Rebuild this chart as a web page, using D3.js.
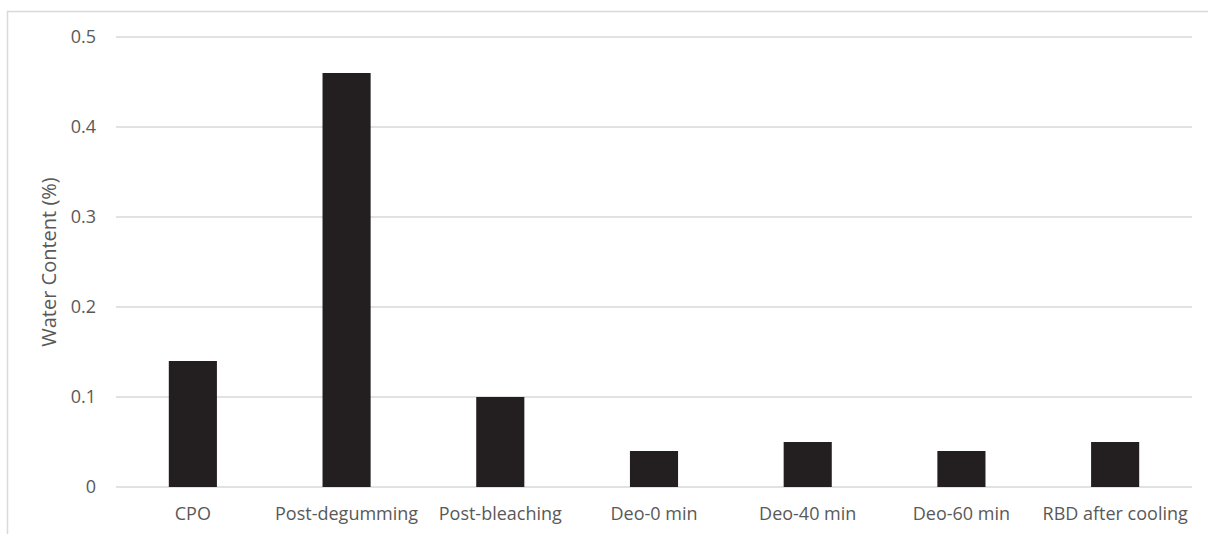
<!DOCTYPE html>
<html><head><meta charset="utf-8">
<script src="https://cdn.jsdelivr.net/npm/d3@7"></script>
<style>
html,body{margin:0;padding:0;background:#fff;}
svg{display:block;}
text{font-family:"Open Sans",sans-serif;fill:#595959;}
</style></head>
<body>
<svg id="chart" width="1208" height="534"></svg>
<script>
const categories = ["CPO","Post-degumming","Post-bleaching","Deo-0 min","Deo-40 min","Deo-60 min","RBD after cooling"];
const values = [0.14, 0.46, 0.10, 0.04, 0.05, 0.04, 0.05];
const yTicks = [0, 0.1, 0.2, 0.3, 0.4, 0.5];
const yTickLabels = ["0","0.1","0.2","0.3","0.4","0.5"];
const yTitle = "Water Content (%)";

const svg = d3.select("#chart");
// outer chart frame (cropped at right/bottom)
svg.append("rect").attr("x",7.5).attr("y",11.5).attr("width",1230).attr("height",560)
  .attr("fill","none").attr("stroke","#d9d9d9").attr("stroke-width",1.5);

const plot = {left:116, right:1192, top:37, bottom:487};
const x = d3.scaleBand().domain(categories).range([plot.left, plot.right]).paddingInner(0.687).paddingOuter(0.3435);
const y = d3.scaleLinear().domain([0,0.5]).range([plot.bottom, plot.top]);

// gridlines
svg.append("g").selectAll("line").data(yTicks).join("line")
  .attr("x1",plot.left).attr("x2",plot.right)
  .attr("y1",d=>y(d)).attr("y2",d=>y(d))
  .attr("stroke","#d9d9d9").attr("stroke-width",1.5);

// bars
svg.append("g").selectAll("rect").data(values).join("rect")
  .attr("x",(d,i)=>x(categories[i]))
  .attr("width",x.bandwidth())
  .attr("y",d=>y(d))
  .attr("height",d=>y(0)-y(d))
  .attr("fill","#231f20");

// y tick labels
const yAxis = d3.axisLeft(y).tickValues(yTicks).tickFormat((d,i)=>yTickLabels[i]).tickSize(0).tickPadding(0);
const ga = svg.append("g").attr("transform",`translate(96,0)`).call(yAxis);
ga.select(".domain").remove();
ga.selectAll("text").attr("font-family","Open Sans").attr("font-size",18).attr("fill","#595959");

// x labels
const xAxis = d3.axisBottom(x).tickSize(0).tickPadding(0);
const gx = svg.append("g").attr("transform",`translate(0,520)`).call(xAxis);
gx.select(".domain").remove();
gx.selectAll("text").attr("font-family","Open Sans").attr("font-size",18).attr("fill","#595959")
  .attr("y",0).attr("dy","0");

// y title
svg.append("text").attr("transform",`translate(56,262) rotate(-90)`)
  .attr("text-anchor","middle").attr("font-size",20).text(yTitle);
</script>
</body></html>
